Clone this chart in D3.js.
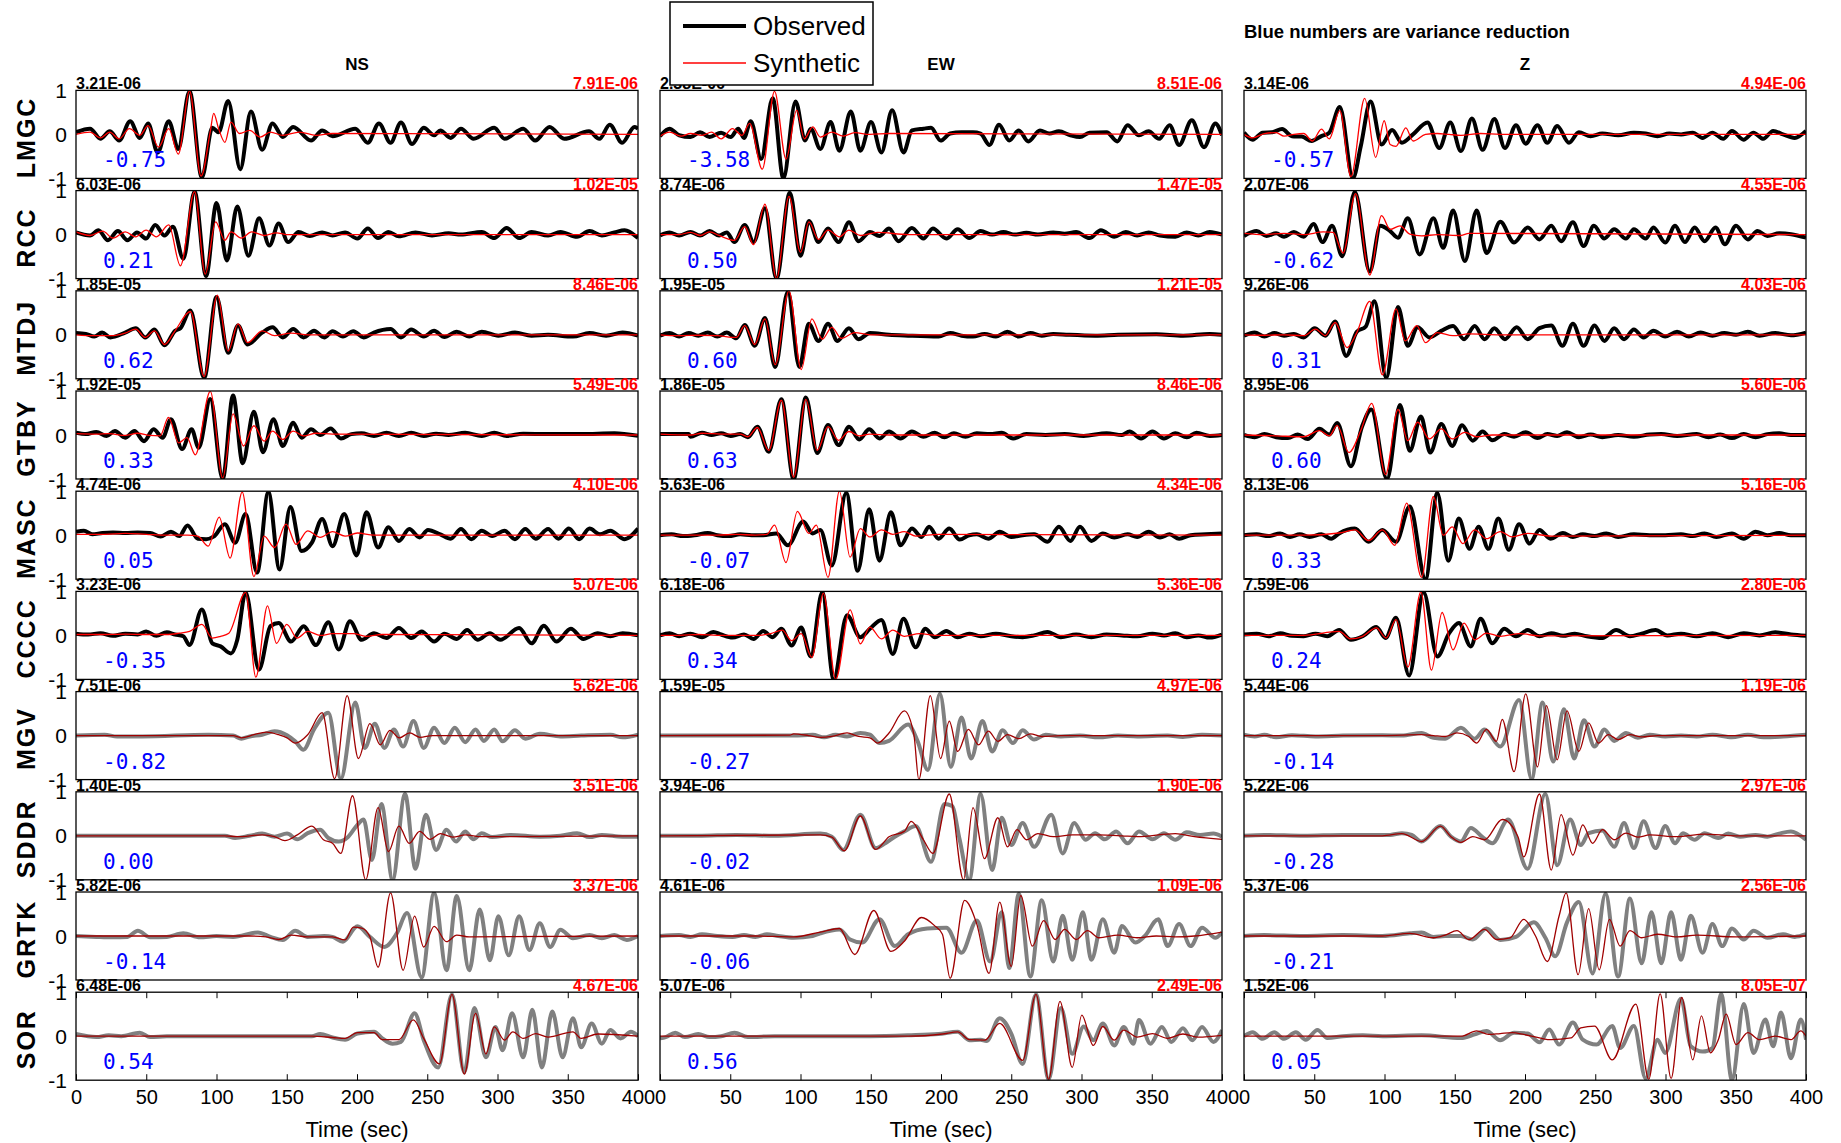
<!DOCTYPE html>
<html>
<head>
<meta charset="utf-8">
<script src="https://cdn.jsdelivr.net/npm/d3@7"></script>
<style>
  body { margin: 0; background: #fff; }
  text { font-family: "Liberation Sans", Arial, sans-serif; }
</style>
</head>
<body>
<svg id="chart" width="1841" height="1143"></svg>
<script>
// ---------------------------------------------------------------------------
// Station / component layout and per-trace annotations
// ---------------------------------------------------------------------------
const stations   = ["LMGC", "RCC", "MTDJ", "GTBY", "MASC", "CCCC", "MGV", "SDDR", "GRTK", "SOR"];
const components = ["NS", "EW", "Z"];

// peak amplitude of the observed record (black, upper left of each panel)
const observedPeak = [
  ["3.21E-06", "2.38E-06", "3.14E-06"],
  ["6.03E-06", "8.74E-06", "2.07E-06"],
  ["1.85E-05", "1.95E-05", "9.26E-06"],
  ["1.92E-05", "1.86E-05", "8.95E-06"],
  ["4.74E-06", "5.63E-06", "8.13E-06"],
  ["3.23E-06", "6.18E-06", "7.59E-06"],
  ["7.51E-06", "1.59E-05", "5.44E-06"],
  ["1.40E-05", "3.94E-06", "5.22E-06"],
  ["5.82E-06", "4.61E-06", "5.37E-06"],
  ["6.48E-06", "5.07E-06", "1.52E-06"]
];
// peak amplitude of the synthetic record (red, upper right of each panel)
const syntheticPeak = [
  ["7.91E-06", "8.51E-06", "4.94E-06"],
  ["1.02E-05", "1.47E-05", "4.55E-06"],
  ["8.46E-06", "1.21E-05", "4.03E-06"],
  ["5.49E-06", "8.46E-06", "5.60E-06"],
  ["4.10E-06", "4.34E-06", "5.16E-06"],
  ["5.07E-06", "5.36E-06", "2.80E-06"],
  ["5.62E-06", "4.97E-06", "1.19E-06"],
  ["3.51E-06", "1.90E-06", "2.97E-06"],
  ["3.37E-06", "1.09E-06", "2.56E-06"],
  ["4.67E-06", "2.49E-06", "8.05E-07"]
];
// variance reduction (blue numbers)
const varianceReduction = [
  [-0.75, -3.58, -0.57],
  [ 0.21,  0.50, -0.62],
  [ 0.62,  0.60,  0.31],
  [ 0.33,  0.63,  0.60],
  [ 0.05, -0.07,  0.33],
  [-0.35,  0.34,  0.24],
  [-0.82, -0.27, -0.14],
  [ 0.00, -0.02, -0.28],
  [-0.14, -0.06, -0.21],
  [ 0.54,  0.56,  0.05]
];

const timeTicks = [0, 50, 100, 150, 200, 250, 300, 350, 400];
const ampTicks  = [1, 0, -1];

// ---------------------------------------------------------------------------
// Normalised waveforms: [time (s), amplitude] at successive turning points
// ---------------------------------------------------------------------------
// LMGC
const obs_LMGC_NS = [[0,0.05],[10,0.13],[17.4,-0.1],[24,0.07],[30.7,-0.14],[38.6,0.3],[45.4,-0.08],[51.3,0.25],[58.1,-0.41],[66,0.3],[72.8,-0.33],[80.8,0.98],[89.6,-0.98],[97,0.15],[101.5,0.05],[108.3,0.76],[116.9,-0.79],[124.5,0.52],[132.5,-0.35],[139.9,0.25],[147.2,-0.06],[154.6,0.17],[167.3,-0.14],[175.2,0.09],[182.6,-0.04],[198.8,0.13],[207.7,-0.19],[215.6,0.25],[223.9,-0.19],[231.3,0.27],[239.2,-0.22],[247.5,0.15],[254.9,-0.02],[259.3,0.09],[266.7,-0.08],[274,0.13],[283,-0.1],[297.7,0.15],[305,-0.1],[318.3,0.13],[326.8,-0.14],[337.1,0.17],[347.4,-0.1],[365.1,0.07],[372.5,-0.1],[379.9,0.22],[388.7,-0.19],[397.5,0.17],[400,0.13]];
const syn_LMGC_NS = [[0,0],[10,0.05],[17.4,-0.08],[24,0.05],[30.7,-0.1],[38,0.13],[45.4,-0.02],[51.3,0.2],[58.7,-0.29],[66,0.13],[72.8,-0.45],[80.8,0.99],[89,-0.95],[95.5,0.05],[98,0.48],[101.5,0.13],[106,-0.18],[110.3,0.28],[116.3,0.02],[123.6,0.09],[131,-0.06],[138.4,0.05],[147.2,-0.02],[159,0.05],[170.8,-0.02],[182.6,0.02],[400,0]];
const obs_LMGC_EW = [[0,-0.04],[6.8,0.13],[13.6,-0.02],[21.7,-0.06],[28.5,0.05],[35.3,-0.06],[43.5,0.04],[50.3,-0.06],[55.7,0.13],[59.8,-0.08],[64.6,0.3],[72,-0.56],[80.2,0.82],[87.8,-1.0],[96.5,0.75],[103.2,-0.14],[107.3,0.13],[114.1,-0.33],[121.4,0.28],[127.7,-0.37],[135.8,0.52],[142.6,-0.37],[150.2,0.28],[157.6,-0.41],[165.2,0.55],[173.3,-0.41],[179.3,0.09],[187.5,0.13],[192.9,0.15],[199.7,-0.14],[206.5,0.02],[214.6,0.05],[222.8,0.05],[228.2,0.02],[234.5,-0.24],[241.3,0.22],[248.6,-0.14],[255.4,0.09],[262.2,-0.16],[270.4,0.09],[277.2,0.02],[283.9,0.07],[292.1,-0.02],[298.9,-0.06],[305.7,0.04],[317.9,0.05],[325.5,-0.16],[332.8,0.21],[340.9,-0.02],[347.7,0.07],[355.3,-0.1],[362.7,0.21],[369.5,-0.24],[378.5,0.32],[387.2,-0.29],[395.3,0.25],[400,-0.02]];
const syn_LMGC_EW = [[0,-0.04],[6.8,0.05],[15,-0.04],[21.7,0.02],[29.9,-0.02],[36.7,0.05],[43.5,-0.1],[51.6,0.13],[58.4,-0.02],[63.8,0.25],[72.8,-0.79],[81.5,0.98],[89.7,-0.56],[97.3,0.55],[102.7,-0.1],[108.7,0.17],[114.1,-0.06],[122.3,0.05],[130.4,-0.04],[138.6,0.04],[149.4,0],[163,0.02],[400,0]];
const obs_LMGC_Z = [[0,0.04],[6.2,-0.12],[13.2,0.04],[20.1,0.05],[27.1,0.12],[34.1,-0.04],[41.1,-0.05],[48.1,-0.15],[55.1,-0.04],[60.7,0.04],[68.2,0.62],[77.5,-1.0],[83.1,-0.27],[90.1,0.75],[97.9,-0.23],[105.4,0.1],[112.4,-0.19],[120.3,0],[130.6,0.27],[139,-0.31],[146.8,0.27],[154.4,-0.38],[162.2,0.36],[169.8,-0.35],[178.2,0.35],[185.7,-0.31],[193.6,0.21],[200.5,-0.21],[208.9,0.21],[215.9,-0.19],[222.9,0.19],[231.3,-0.19],[238.3,0.05],[246.7,-0.04],[255,0.02],[266.3,-0.02],[277.5,0.04],[285.9,0.02],[294.3,-0.04],[302.7,0.02],[311.1,0],[319.4,0.04],[326.4,-0.08],[333.4,0.04],[341.1,-0.1],[347.3,0.08],[355.6,-0.12],[362.6,0.04],[369.6,-0.1],[376.6,0.08],[383.6,0],[392,-0.08],[400,0.08]];
const syn_LMGC_Z = [[0,0],[6.2,-0.08],[14.5,0.02],[22.9,0.04],[28.5,-0.04],[35.5,0],[42.5,0.02],[48.7,-0.15],[55.1,0.12],[60.7,-0.1],[68.2,0.54],[76.1,-0.96],[85.9,0.82],[93.7,-0.52],[99.8,0.31],[104,-0.23],[108.2,-0.27],[115.2,0.15],[120.3,-0.15],[129.2,0],[137.6,0.02],[146,0],[154.4,-0.02],[168.4,0.02],[182.4,0],[400,0]];
// RCC
const obs_RCC_NS = [[0,0.05],[10,-0.02],[16,0.1],[22.7,-0.13],[29.8,0.08],[36.6,-0.13],[43.4,0.05],[49.9,-0.09],[56.4,0.22],[63,-0.02],[69,0.18],[76.4,-0.55],[84.4,0.98],[92.6,-0.94],[100,0.72],[107.4,-0.59],[114.8,0.64],[122.7,-0.48],[130.3,0.37],[137.7,-0.25],[144.2,0.25],[151,-0.17],[158.4,0.06],[166.4,-0.03],[175.2,0.05],[182.6,-0.02],[191.5,0.05],[200.3,-0.09],[207.7,0.14],[215,-0.08],[222.4,0.06],[229.8,-0.04],[241.6,0.05],[253.4,-0.02],[265.2,0.03],[274,0],[288.8,0.06],[297.7,-0.08],[306.5,0.15],[315.4,-0.08],[324.2,0.06],[336,-0.02],[344.8,0.06],[356.6,-0.05],[365.5,0.08],[374.3,-0.02],[383.2,0.05],[390.5,0.1],[400,-0.08]];
const syn_RCC_NS = [[0,0.06],[10,-0.02],[19,0.08],[26.3,-0.08],[35.1,0.06],[42.5,-0.05],[49.9,0.1],[57.2,-0.05],[66,0.22],[74.3,-0.71],[84.4,0.98],[92,-0.9],[99.4,0.29],[105.9,-0.13],[110.3,0.06],[117.7,-0.08],[125,0.06],[133.9,-0.02],[142.7,0.04],[150,0],[400,0]];
const obs_RCC_EW = [[0,-0.02],[6.8,0.05],[13.6,-0.02],[21.7,0.06],[28.5,-0.02],[35.3,0.08],[42.1,-0.02],[47.5,0.05],[53,-0.17],[60.3,0.22],[66.6,-0.17],[74.7,0.6],[82.9,-1.0],[92.4,0.95],[100,-0.48],[106,0.31],[112.8,-0.17],[119.6,0.14],[127.1,-0.17],[134.5,0.28],[141.3,-0.15],[149.4,0.06],[156.2,-0.03],[163,0.14],[169.8,-0.15],[179.3,0.15],[187.5,-0.09],[194.2,0.14],[203.8,-0.09],[211.9,0.12],[220.1,-0.08],[228.2,0.08],[236.4,0],[244.5,0.06],[252.7,0],[260.8,0.04],[269,0],[279.9,0.05],[288,0.02],[296.2,0.06],[305.7,-0.08],[313.8,0.1],[323.3,-0.05],[331.5,0.06],[339.6,-0.02],[347.8,0.05],[355.9,-0.02],[366.8,-0.05],[374.9,0.05],[383.1,-0.02],[391.2,0.06],[400,0]];
const syn_RCC_EW = [[0,0],[13.6,0],[21.7,0.05],[28.5,-0.02],[35.3,0.06],[42.1,-0.02],[53,-0.13],[60.3,0.18],[66.6,-0.23],[74.7,0.69],[82.9,-1.0],[91.8,0.87],[100,-0.4],[106,0.29],[112.8,-0.11],[119.6,0.1],[127.7,-0.05],[134.5,0.1],[142.6,-0.02],[154.8,0.05],[176.6,0],[400,0]];
const obs_RCC_Z = [[0,-0.03],[9,0.08],[16,-0.03],[22.9,0.03],[28.5,-0.05],[35.5,0.06],[42.5,-0.05],[49.5,0.24],[55.9,-0.17],[62.7,0.2],[69.9,-0.49],[78.9,0.97],[89.5,-0.84],[97.1,0.2],[104,0.08],[109.6,-0.07],[116.6,0.37],[125,-0.45],[134.8,0.37],[141.8,-0.3],[148.8,0.55],[157.2,-0.6],[165.6,0.55],[172.6,-0.42],[182.4,0.29],[192.2,-0.18],[202,0.16],[210.3,-0.11],[218.7,0.2],[225.7,-0.15],[234.1,0.28],[241.7,-0.26],[249,0.2],[256.5,-0.09],[263.5,0.12],[271.8,-0.09],[277.5,0.12],[285.9,-0.09],[291.4,0.16],[299.8,-0.18],[306.8,0.2],[313.8,-0.17],[320.8,0.16],[327.8,-0.15],[335.6,0.16],[342.3,-0.22],[350.2,0.2],[358.6,-0.11],[365.5,0.08],[372.5,-0.03],[381,0.03],[389.4,0.01],[400,-0.07]];
const syn_RCC_Z = [[0,0.03],[14.5,0],[28.5,0.03],[42.5,0],[56.5,0.06],[63.5,0.05],[70.5,-0.42],[79.4,0.93],[89.5,-0.92],[97.9,0.43],[104,0.12],[111,0.2],[118,0.01],[126.4,-0.03],[137.6,0],[154.4,-0.02],[160,0.03],[400,0]];
// MTDJ
const obs_MTDJ_NS = [[0,0.04],[7,0.02],[13,-0.04],[18.6,0.05],[24.5,-0.06],[35,0.05],[42.5,0.15],[49.3,-0.06],[55.8,0.12],[63,-0.24],[70.5,0.09],[74.3,0.15],[81.4,0.55],[91.2,-0.98],[100,0.86],[108.3,-0.41],[115.3,0.21],[122.1,-0.22],[132.5,0.05],[139.9,0.17],[147.2,-0.06],[154.6,0.13],[162,-0.06],[169.4,0.09],[176.7,-0.06],[182.6,0.08],[190,-0.04],[197.4,0.08],[204.7,-0.06],[212,0.05],[223.9,0.13],[231.3,-0.06],[238.6,0.12],[247.5,-0.04],[254.9,0.09],[262.2,-0.05],[271,0.07],[279.9,-0.04],[288.8,0.07],[300.6,-0.02],[312.4,0.05],[324.2,-0.02],[336,0],[353.7,-0.04],[365.5,0.04],[377.3,-0.02],[389,0.05],[400,-0.02]];
const syn_MTDJ_NS = [[0,0],[13,-0.02],[24.5,-0.02],[35,0.04],[42.5,0.13],[49.3,-0.06],[55.8,0.09],[63,-0.22],[70.5,0.09],[81.4,0.53],[91.2,-0.95],[100.6,0.9],[108.3,-0.37],[115.3,0.25],[122.1,-0.18],[132.5,0.09],[141.3,-0.02],[153.1,0.04],[164.9,0],[400,0]];
const obs_MTDJ_EW = [[0,-0.02],[6.8,0.04],[13.6,-0.04],[20.4,0.04],[27.2,-0.02],[34,0.05],[40.8,-0.04],[47.5,0.05],[54.3,-0.08],[60.3,0.22],[67.4,-0.25],[74.7,0.38],[82,-0.73],[91,0.98],[99.2,-0.73],[105.9,0.25],[112.8,-0.14],[119.6,0.25],[126.3,-0.14],[134.5,0.15],[141.3,-0.1],[149.4,0.04],[163,0],[176.6,-0.02],[198.3,-0.04],[206.5,0.04],[214.6,-0.02],[222.8,-0.04],[231,0.02],[239.1,-0.04],[247.3,0.07],[255.4,-0.04],[263.6,0.04],[271.7,-0.02],[279.9,0.02],[290.8,0],[309.8,-0.02],[326.1,0],[353.3,0.01],[372.3,-0.02],[391.3,0.02],[400,0]];
const syn_MTDJ_EW = [[0,0],[13.6,-0.02],[27.2,-0.01],[40.8,-0.02],[54.3,-0.06],[60.3,0.21],[67.4,-0.22],[74.7,0.36],[82,-0.68],[91.8,1.0],[100.5,-0.79],[108.1,0.36],[115.5,-0.1],[122.3,0.17],[129.1,-0.08],[138.6,0.05],[149.4,0],[400,0]];
const obs_MTDJ_Z = [[0,-0.02],[7.6,0.05],[14.5,-0.04],[21.5,0.04],[28.5,-0.02],[35.5,0.02],[42.5,-0.06],[50.3,0.15],[57.9,-0.02],[64.9,0.3],[72.7,-0.48],[80.3,0.07],[86.7,0.19],[92.9,0.76],[101.2,-0.98],[109.6,0.63],[116.6,-0.25],[123.6,0.17],[132,-0.06],[140.4,0.09],[148.8,0.2],[156.6,-0.1],[164.2,0.2],[171.2,-0.1],[178.2,0.15],[185.7,-0.1],[194.1,0.17],[201.9,-0.1],[210.3,0.15],[218.7,0.21],[226.6,-0.25],[234.1,0.25],[241.7,-0.25],[249.5,0.21],[256.5,-0.14],[263.5,0.15],[270.5,-0.1],[277.5,0.12],[284.4,-0.06],[291.4,0.09],[299.8,-0.04],[308.2,0.07],[316.6,-0.04],[325,0.05],[333.4,-0.02],[341.8,0.04],[350.2,0],[358.6,0.07],[366.9,-0.02],[378.1,0.04],[389.3,-0.01],[400,0.05]];
const syn_MTDJ_Z = [[0,0],[14.5,-0.01],[28.5,0],[42.5,-0.02],[50.9,0.13],[57.9,-0.02],[64.9,0.28],[73.3,-0.29],[80.3,0.05],[89.5,0.76],[98.5,-0.91],[108.2,0.59],[114.7,-0.14],[123,0.21],[129.2,-0.18],[137.6,0.05],[148.8,-0.02],[160,0.02],[182.4,0],[400,0]];
// GTBY
const obs_GTBY_NS = [[0,0.05],[7,0.02],[14.5,0.07],[21.8,-0.02],[27.7,0.09],[35,-0.06],[41.6,0.09],[48.4,-0.14],[55.2,0.13],[61.7,-0.06],[67.6,0.36],[75.5,-0.32],[82.3,0.13],[87.3,-0.29],[95.6,0.82],[104.4,-1.0],[111.8,0.9],[118.6,-0.64],[126.6,0.53],[133.1,-0.39],[140.5,0.36],[147.2,-0.25],[154.6,0.28],[160.5,-0.06],[167.3,0.13],[173.8,0],[181.2,0.15],[188.6,-0.08],[196,0.02],[203.3,0.04],[212.1,-0.02],[221,0.05],[229.8,-0.02],[238.6,0.05],[247.5,-0.02],[256.3,0.03],[265.2,0],[277,0.05],[288.8,-0.02],[297.7,0.05],[306.5,-0.02],[318.3,0.03],[336,0.02],[359.6,0.02],[383.2,0.04],[400,-0.02]];
const syn_GTBY_NS = [[0,0.03],[14.5,0.02],[23.3,0.03],[35,-0.01],[43.7,0.04],[52.5,-0.01],[59.9,-0.02],[65.8,0.4],[73.1,-0.18],[79,-0.06],[84.9,-0.45],[95.6,0.99],[104.4,-0.98],[111.8,0.48],[119.2,-0.25],[126.6,0.21],[133.9,-0.14],[139.9,0.09],[147.2,-0.1],[154.6,0.09],[162,-0.02],[170.8,0.04],[182.6,0.02],[400,0]];
const obs_GTBY_EW = [[0,0.02],[20.4,0.02],[21.7,-0.04],[29.9,0.05],[36.7,0],[43.5,0.04],[50.3,-0.02],[57.1,0.02],[62.5,-0.05],[69.3,0.19],[77.4,-0.38],[86.4,0.81],[95.1,-1.0],[103.8,0.85],[111.9,-0.41],[119.6,0.23],[127.1,-0.23],[134.5,0.19],[141.8,-0.1],[148.9,0.13],[156.2,-0.08],[163,0.08],[171.2,-0.08],[179.3,0.08],[187.5,-0.04],[195.6,0.05],[202.4,-0.05],[209.2,0.04],[217.4,-0.04],[225.5,0.04],[235,0.02],[243.2,0.05],[251.3,-0.08],[260.8,0.02],[274.4,0],[288,0.02],[301.6,-0.02],[317.9,0.04],[328.8,0],[334.2,0.08],[342.4,-0.08],[350.5,0.08],[358.7,-0.08],[366.8,0.04],[375,-0.05],[381.8,0.05],[391.3,-0.02],[400,0]];
const syn_GTBY_EW = [[0,0.02],[21.7,0],[29.9,0.04],[43.5,0.02],[57.1,0.02],[62.5,-0.04],[69.3,0.17],[77.4,-0.35],[86.4,0.79],[95.1,-0.96],[103.8,0.81],[111.9,-0.35],[119.6,0.19],[127.1,-0.12],[134.5,0.08],[141.8,-0.02],[149.4,0.02],[163,0],[400,0]];
const obs_GTBY_Z = [[0,0],[7.6,-0.05],[14.5,0.02],[22.9,-0.05],[31.3,-0.07],[38.3,0.01],[45.3,-0.09],[53.7,0.14],[60.7,0.01],[66.3,0.27],[76.1,-0.71],[83.9,0.18],[90.6,0.58],[101.8,-1.0],[111,0.68],[118,-0.36],[125.9,0.42],[132.6,-0.4],[140.4,0.25],[148.2,-0.25],[155.2,0.22],[162.8,-0.13],[169.8,0.08],[176.8,-0.12],[185.2,0.02],[192.2,-0.04],[200.5,0.06],[208.9,-0.07],[215.9,0.02],[222.9,-0.02],[229.9,0.06],[238.3,-0.05],[246.7,0.01],[255,-0.05],[266.3,0],[277.5,-0.04],[288.7,0.01],[297,0.02],[308.2,-0.02],[322.2,0.02],[330.6,-0.05],[339,0.01],[347.3,-0.07],[355.7,0.02],[364.1,-0.05],[372.5,0.02],[380.9,0.04],[389.3,0],[400,0]];
const syn_GTBY_Z = [[0,0],[22.9,-0.02],[42.5,-0.04],[53.7,0.1],[60.7,-0.02],[66.3,0.22],[74.7,-0.4],[83.1,0.1],[90.9,0.72],[100.7,-0.9],[109.6,0.58],[116.6,-0.13],[123.6,0.29],[132,-0.09],[140.4,0.14],[148.2,-0.09],[157.2,0.06],[165.6,-0.04],[176.8,0],[400,0]];
// MASC
const obs_MASC_NS = [[0,0.08],[5.6,0.1],[11.5,0.02],[18.9,0.05],[26.3,0.06],[35.1,0.05],[43.9,0.06],[52.8,0.05],[60.2,-0.03],[67.6,0.08],[73.5,-0.02],[79.4,0.22],[86.7,-0.08],[92.6,-0.09],[98.5,-0.02],[105.9,0.25],[113.3,-0.17],[120.7,0.48],[128.9,-0.85],[136.9,0.98],[144.9,-0.78],[152.6,0.64],[160.5,-0.36],[167.9,-0.17],[175.2,0.37],[182.6,-0.25],[190.9,0.48],[199.7,-0.46],[206.8,0.52],[215,-0.28],[222.4,0.18],[229.8,-0.13],[237.2,0.14],[244.6,-0.05],[250.5,0.12],[259.3,0.02],[266.7,-0.08],[274,0.14],[281.4,-0.09],[288.8,0.1],[296.2,-0.02],[305,0.1],[312.4,-0.09],[319.8,0.14],[327.2,-0.08],[336,0.14],[343.4,-0.08],[350.8,0.15],[358.1,-0.09],[365.5,0.15],[372.9,0.02],[380.3,0.1],[390.5,-0.09],[400,0.15]];
const syn_MASC_NS = [[0,0.02],[20.4,0.02],[35.1,0.04],[49.9,0.02],[64.6,0],[79.4,0],[86.7,-0.02],[94.1,-0.25],[101.9,0.41],[109.7,-0.52],[118.3,0.98],[126.6,-0.94],[133.9,-0.02],[141.3,-0.28],[149.5,0.25],[156.6,-0.21],[164.9,0.1],[173.8,-0.05],[182.6,0.08],[191.5,-0.02],[200.3,0.05],[212,0],[400,0]];
const obs_MASC_EW = [[0,0],[8.2,0.02],[16.3,-0.02],[24.5,0],[34,0.05],[40.8,0],[48.9,-0.02],[57.1,0.02],[65.2,0],[73.4,0],[82.9,0.04],[91,-0.23],[101.9,0.31],[108.7,0.04],[114.1,0.12],[122.3,-0.69],[132.6,0.96],[140.7,-0.81],[148.9,0.59],[156.2,-0.58],[164.4,0.52],[171.2,-0.23],[179.3,0.15],[186.1,-0.04],[191.5,0.19],[198.3,-0.08],[205.9,0.15],[213.3,-0.1],[220.1,0],[225.5,0.02],[233.7,-0.08],[241.8,0.08],[250,-0.04],[258.1,0],[266.3,0.02],[275.8,-0.15],[283.9,0.19],[292.1,-0.13],[298.9,0.19],[307,-0.13],[315.2,0.04],[323.3,-0.05],[332.8,0.02],[339.6,-0.04],[347.8,0.08],[355.9,-0.05],[362.7,0.02],[369.5,-0.08],[377.7,0],[388.6,0.02],[400,0.04]];
const syn_MASC_EW = [[0,0],[40.8,0],[54.3,0.02],[67.9,0],[76.1,0.02],[81.5,0.23],[89.7,-0.62],[97.8,0.54],[105.9,0.04],[111.3,0.23],[119.6,-0.96],[127.7,1.0],[135.3,-0.5],[142.6,0.15],[149.4,-0.04],[157.6,0.12],[165.7,0.02],[173.9,0.08],[182,-0.02],[198.3,0.02],[400,0]];
const obs_MASC_Z = [[0,0],[9,0.02],[17.4,-0.02],[25.7,0.04],[32.7,-0.04],[39.7,0.02],[46.7,-0.04],[55.1,0.02],[62.1,-0.08],[67.7,0.04],[78.9,0.15],[88.7,-0.15],[98.5,0.12],[108.2,-0.15],[118,0.65],[129.2,-1.0],[137.6,0.96],[145.4,-0.58],[152.9,0.38],[160.5,-0.31],[167,0.19],[174,-0.31],[181,0.38],[188.5,-0.33],[195.8,0.25],[203.3,-0.19],[210.3,0.12],[218.1,-0.08],[227,0.05],[234.1,-0.04],[241.1,0.02],[249.5,-0.02],[257.9,0.04],[266.3,-0.04],[277.5,0.02],[288.7,0],[299.8,0],[311,0.02],[319.4,-0.02],[327.8,0.04],[336.2,-0.04],[347.3,0.04],[355.7,-0.08],[364.1,0.08],[372.5,0],[380.9,0.05],[389.3,0],[400,0]];
const syn_MASC_Z = [[0,0],[42.5,0],[67.7,0.05],[78.9,0.12],[88.7,-0.12],[98.5,0.12],[107.4,-0.23],[115.8,0.73],[126.4,-0.96],[134.8,0.88],[141.8,0],[148.2,0.19],[155.8,-0.19],[164.2,0.12],[172.6,-0.08],[182.4,0.08],[190.8,-0.04],[201.9,0.04],[218.7,-0.02],[400,0]];
// CCCC
const obs_CCCC_NS = [[0,0.04],[8.6,0.02],[17.4,0.05],[26.3,-0.01],[35.1,0.04],[43.9,0.02],[49.9,0.09],[57.2,-0.01],[64.6,0.07],[70.5,0.02],[76.4,-0.02],[80.8,-0.22],[89.6,0.59],[97,-0.18],[102.9,-0.25],[110.3,-0.41],[114.8,-0.1],[120.7,0.98],[130.2,-0.78],[138.4,0.21],[144.3,0.28],[153.1,-0.14],[162,0.21],[170.8,-0.22],[179.6,0.3],[187,-0.32],[195,0.32],[203.3,-0.1],[212.1,0.05],[221,-0.06],[229.8,0.17],[238.6,-0.06],[246,0.09],[254.9,-0.14],[262.2,0.04],[271,-0.08],[278.4,0.12],[285.8,-0.1],[294.6,0.05],[302,-0.1],[315.4,0.17],[324.2,-0.18],[333,0.22],[341.9,-0.14],[352.2,0.15],[361.1,-0.08],[371.4,0.05],[380.3,-0.02],[389.1,0.05],[400,0]];
const syn_CCCC_NS = [[0,0.02],[17.4,0.02],[35.1,0.03],[49.9,0.02],[64.6,0.02],[73.5,0.05],[80.8,0.09],[89.6,0.25],[97,-0.06],[102.9,-0.02],[108.8,0.05],[120.7,0.98],[128,-0.95],[136.3,0.67],[142.7,-0.18],[150,0.25],[157.4,-0.06],[164.9,0.09],[173.8,0],[182.6,0.04],[197.4,0.04],[206.2,-0.02],[218,0.02],[400,0]];
const obs_CCCC_EW = [[0,0],[6.8,0.05],[13.6,-0.02],[21.7,0.04],[29.9,-0.04],[38,0.08],[43.5,0.02],[51.6,-0.05],[59.8,0.02],[66.6,-0.08],[73.4,0.1],[80.2,-0.04],[86.4,0.15],[93.7,-0.23],[100.5,0.18],[107.3,-0.48],[115.5,0.98],[123.6,-1.0],[133.1,0.46],[142.6,-0.04],[149.4,0.15],[157.6,0.35],[165.7,-0.42],[173.3,0.38],[182,-0.27],[188.8,0.15],[195.6,-0.04],[203.8,0.1],[211.9,-0.04],[220.1,0.04],[228.2,-0.02],[239.1,0.04],[250,-0.02],[258.1,-0.04],[266.3,0],[275.8,0.08],[285.3,-0.04],[296.2,0.02],[307,-0.04],[317.9,0.02],[328.8,0],[339.6,-0.02],[350.5,0.04],[358.7,0],[366.8,0.05],[374.9,-0.04],[383.1,0],[391.2,-0.05],[400,0.02]];
const syn_CCCC_EW = [[0,0],[13.6,0],[27.2,0.02],[40.8,0],[54.3,0],[67.9,0],[78.8,0.04],[87,0.12],[93.7,-0.12],[100.5,0.04],[108.1,-0.5],[116.3,0.96],[125,-1.0],[135.3,0.58],[142.6,-0.19],[149.4,0.19],[157.6,-0.08],[165.7,0.12],[173.9,-0.02],[184.7,0.04],[198.3,0],[400,0]];
const obs_CCCC_Z = [[0,0.02],[9,0.04],[17.4,-0.02],[25.7,0.05],[34.1,-0.01],[42.5,-0.02],[50.9,0.04],[59.3,-0.02],[67.7,0.12],[76.1,-0.1],[84.5,-0.02],[94.2,0.19],[100.7,-0.06],[108.2,0.4],[117.5,-0.91],[127.8,0.98],[137.6,-0.48],[146,0.05],[153,0.28],[161.4,-0.25],[168.4,0.38],[176.8,-0.18],[185.2,0.15],[193.6,-0.02],[202,0.12],[210.3,-0.02],[218.7,0.05],[227.1,-0.01],[235.5,0.04],[243.9,-0.02],[255.1,-0.06],[264.9,0.12],[274.7,-0.02],[283,0.04],[292.9,0.12],[301.2,0],[311,0.04],[322.2,-0.02],[333.4,0.05],[344.6,-0.04],[355.7,0.05],[366.9,0],[378.1,0.07],[389.3,0.02],[400,-0.01]];
const syn_CCCC_Z = [[0,0],[42.5,0],[67.7,0.09],[76.1,-0.08],[84.5,-0.02],[94.2,0.17],[101.2,-0.06],[108.2,0.36],[116.6,-0.72],[125.9,0.99],[133.4,-0.79],[141,0.52],[148.8,-0.33],[156.6,0.28],[164.2,-0.1],[172.6,0.05],[182.4,-0.02],[196.4,0.04],[210.3,-0.01],[400,0]];
// MGV
const obs_MGV_NS = [[0,0],[20.4,0.02],[29.2,-0.02],[47,-0.02],[94.1,0.02],[111.8,0],[117.7,-0.07],[123.6,-0.02],[132.5,0.02],[141.3,0.1],[150.2,0.01],[156,-0.13],[161.9,-0.32],[169.4,0.14],[179.6,0.52],[188.5,-0.98],[198.8,0.75],[205.6,-0.28],[212.7,0.27],[219.5,-0.28],[226.3,0.14],[232.8,-0.25],[240.2,0.33],[247.5,-0.28],[254.9,0.18],[262.2,-0.17],[269.6,0.18],[277,-0.15],[284.4,0.14],[290.3,-0.12],[297.7,0.14],[303.6,-0.13],[312.4,0.12],[319.8,-0.07],[330.1,0.04],[344.8,-0.02],[359.6,0],[380.3,0.02],[389.1,-0.04],[400,0.02]];
const syn_MGV_NS = [[0,0],[94.1,0],[111.8,0],[117.7,-0.05],[126.6,0.02],[135.4,0.08],[144.3,0.02],[150.2,-0.05],[156,-0.17],[164.9,0.02],[175.2,0.52],[184.1,-0.98],[193,0.91],[201,-0.52],[209.2,0.27],[216.6,-0.21],[223.4,0.12],[230.1,-0.05],[237.5,0.06],[244.9,-0.04],[253.7,0],[400,0]];
const obs_MGV_EW = [[0,0],[95.1,0],[108.7,0.02],[116.8,-0.04],[125,0.02],[133.1,-0.02],[142.6,0.06],[149.4,0.02],[156.2,-0.17],[163,-0.12],[176.6,0.25],[183.4,-0.13],[190.7,-0.78],[199.2,0.95],[207,-0.71],[214.6,0.41],[221.4,-0.52],[229.5,0.33],[236.4,-0.36],[243.9,0.12],[251.2,-0.17],[258.1,0.12],[266.3,-0.09],[274.4,0.02],[285.3,-0.02],[298.9,0],[312.4,-0.04],[326,0],[339.6,-0.02],[361.3,0],[372.2,-0.03],[385.8,0.02],[400,0]];
const syn_MGV_EW = [[0,0],[92.4,0.01],[95.1,0.04],[105.9,0],[114.1,-0.04],[122.3,-0.02],[133.1,0.06],[141.3,-0.02],[149.4,-0.05],[154.8,-0.17],[163,0.06],[173.9,0.56],[180.7,0.02],[184.2,-1.0],[192.4,0.91],[199.7,-0.52],[205.9,0.33],[211.9,-0.36],[219.5,0.14],[226.8,-0.21],[233.7,0.1],[240.5,-0.13],[247.3,0.02],[255.4,-0.07],[263.6,0.04],[271.7,-0.02],[285.3,0],[400,0]];
const obs_MGV_Z = [[0,0.02],[7.6,-0.02],[14.5,0.02],[22.9,-0.04],[34.1,0.01],[50.9,-0.02],[70.5,0],[98.5,0.01],[112.4,0],[126.4,0.06],[134.8,-0.05],[143.2,-0.07],[154.4,0.18],[164.2,-0.07],[171.2,0.14],[182.4,-0.25],[195.8,0.81],[204.7,-0.99],[212.5,0.75],[220.1,-0.59],[227.7,0.6],[235,-0.52],[241.9,0.35],[249.5,-0.25],[256.5,0.14],[263.5,-0.12],[271.9,0.06],[280.3,-0.05],[288.7,0.02],[299.8,-0.02],[311,0],[322.2,-0.02],[333.4,0.02],[347.3,-0.04],[358.6,0.02],[369.8,-0.04],[383.8,-0.02],[400,0.02]];
const syn_MGV_Z = [[0,0],[98.5,0],[126.4,0.02],[134.8,0],[143.2,-0.02],[151.6,0.06],[160,-0.02],[165.6,-0.17],[172.6,0.14],[179.6,-0.13],[183.8,0.37],[192.2,-0.82],[200.5,0.95],[208.9,-0.71],[215.3,0.68],[222.9,-0.55],[229.9,0.56],[238.3,-0.36],[245.3,0.29],[252.3,-0.17],[259.3,0.02],[266.3,-0.09],[274.7,0.02],[283,-0.03],[294.3,0],[400,0]];
// SDDR
const obs_SDDR_NS = [[0,0],[105.9,0],[113.3,-0.05],[123.6,0],[132.5,0.05],[141.3,-0.02],[150.2,0.05],[157.5,-0.08],[164.9,0.06],[173.8,0.14],[179.6,-0.05],[187,-0.13],[193.8,-0.02],[200.3,0.25],[204.7,0.37],[210.6,-0.55],[217.4,0.72],[225.3,-1.0],[234.2,0.95],[241.6,-0.75],[249,0.48],[256.3,-0.32],[263.7,0.14],[270.5,-0.13],[277,0.1],[282.9,-0.08],[288.8,0.06],[296.2,-0.03],[309.5,0.02],[330.1,-0.02],[344.8,0],[356.6,0.06],[365.5,-0.03],[374.3,0.02],[389.1,-0.02],[400,-0.02]];
const syn_SDDR_NS = [[0,0],[105.9,0],[114.8,-0.02],[132.5,0.02],[141.3,-0.02],[148.7,-0.11],[157.5,0.02],[167.9,0.22],[176.1,-0.09],[182.6,-0.17],[188.5,-0.4],[196.8,0.91],[206.2,-1.0],[215,0.64],[222.4,-0.36],[229.8,0.22],[237.2,-0.17],[244.6,0.1],[252,-0.08],[259.3,0.05],[268.2,-0.03],[277,0.02],[288.8,-0.02],[400,0]];
const obs_SDDR_EW = [[0,0],[27.2,0],[54.3,0.02],[81.5,0],[114.1,0.05],[122.3,-0.02],[130.4,-0.32],[142.6,0.48],[153.5,-0.28],[160.3,-0.17],[167.1,-0.02],[173.9,0.1],[182,0.22],[192.9,-0.59],[202.4,0.72],[207.8,0.68],[213.3,-0.09],[220.1,-1.0],[228.2,0.95],[236.4,-0.78],[243.2,0.41],[250,-0.21],[258.1,0.29],[266.3,-0.25],[278.5,0.48],[286.6,-0.4],[294.8,0.29],[302.9,-0.09],[309.7,0.06],[316.5,-0.08],[324.7,0.1],[332.8,-0.17],[340.9,0.1],[350.5,-0.08],[358.7,0.06],[366.8,-0.09],[374.9,0.08],[384.4,0.02],[393.9,0.05],[400,-0.02]];
const syn_SDDR_EW = [[0,0],[114.1,0.02],[122.3,-0.03],[131.2,-0.34],[142.6,0.45],[153.5,-0.31],[163,-0.02],[173.9,0.1],[178.8,0.33],[187.5,-0.09],[194.2,-0.4],[205.9,0.95],[216,-1.0],[222.8,0.64],[230.9,-0.52],[240.5,0.41],[247.3,-0.25],[254.1,0.14],[260.8,-0.09],[269,0.05],[279.9,-0.02],[293.4,0.02],[312.4,0.02],[328.8,0],[339.6,-0.02],[366.8,0.05],[380.4,-0.02],[400,-0.08]];
const obs_SDDR_Z = [[0,0],[14.5,0.02],[42.5,0],[70.5,0.02],[104,0.02],[112.4,0.06],[119.4,0.02],[126.4,-0.13],[139.8,0.22],[147.3,-0.02],[154.4,-0.13],[161.4,0.18],[169.8,-0.03],[176.8,-0.17],[188,0.37],[201.9,-0.75],[214.5,0.95],[222.9,-0.67],[232.1,0.37],[239.7,-0.21],[245.3,0.06],[255.1,0.12],[263.5,-0.25],[270.5,0.29],[277.5,-0.28],[284.4,0.33],[292.9,-0.28],[299.8,0.22],[306.8,-0.17],[312.4,0.06],[320.8,-0.09],[327.8,0.06],[337.6,-0.05],[344.6,0.05],[353,-0.02],[364.1,0.02],[372.5,-0.02],[380.9,0.05],[389.3,0.1],[400,-0.09]];
const syn_SDDR_Z = [[0,0],[98.5,0],[112.4,0.05],[126.4,-0.13],[139.8,0.22],[147.3,-0.02],[154.4,-0.15],[162.8,-0.02],[171.2,-0.09],[183.8,0.37],[195,-0.02],[199.1,-0.48],[210.3,0.95],[218.7,-0.78],[225.7,0.48],[234.1,-0.44],[241.1,0.25],[248.1,-0.17],[255.1,0.14],[263.5,-0.09],[271.9,0.06],[280.3,-0.03],[288.7,0.02],[308.2,-0.02],[327.8,0.04],[350.2,0],[400,0]];
// GRTK
const obs_GRTK_NS = [[0,0],[14.5,-0.02],[26.3,-0.03],[36.6,-0.02],[44,0.12],[52.8,-0.03],[64.6,-0.02],[76.4,0.06],[88.2,-0.03],[100,0],[111.8,-0.02],[129.5,0.08],[138.4,-0.02],[147.2,-0.09],[156,0.12],[164.9,-0.02],[176.7,0],[182.6,-0.02],[190,-0.13],[200.3,0.22],[209.2,-0.02],[219.5,-0.25],[228.3,0.06],[235.7,0.52],[246,-0.94],[254.9,0.98],[263.7,-0.78],[271,0.91],[279.9,-0.78],[287.3,0.6],[294.6,-0.55],[300.6,0.45],[308,-0.44],[315.4,0.45],[322.7,-0.32],[330.1,0.29],[337.5,-0.25],[344.8,0.14],[353.7,-0.05],[365.5,0.02],[374.3,-0.05],[383.2,0.02],[392,-0.09],[400,0]];
const syn_GRTK_NS = [[0,0],[123.6,0],[135.4,-0.02],[144.3,-0.08],[153.1,0.02],[164.9,-0.02],[182.6,-0.02],[191.5,-0.09],[197.4,0.2],[203.3,0.18],[209.2,-0.02],[215,-0.71],[223.9,0.98],[232.8,-0.78],[241,0.45],[247.5,-0.25],[254.9,0.22],[263.7,-0.13],[271,0.02],[279.9,-0.02],[400,0]];
const obs_GRTK_EW = [[0,0],[13.6,0.02],[21.7,-0.02],[29.9,0.04],[40.8,0],[51.6,-0.02],[59.8,0.02],[67.9,-0.02],[76.1,0.04],[84.2,0],[95.1,-0.04],[108.7,0],[114.1,0.06],[127.7,0.15],[135.3,-0.08],[143.9,-0.15],[156.2,0.38],[167.1,-0.23],[176.6,0.04],[190.2,0.17],[203.8,0.19],[214.6,-0.38],[225.5,0.35],[235,-0.58],[243.2,0.54],[248.6,-0.73],[255.4,0.96],[263.6,-0.92],[271.7,0.81],[279.9,-0.58],[286.6,0.46],[293.4,-0.54],[301,0.54],[307,-0.54],[315.2,0.38],[323.3,-0.38],[328.8,0.23],[338.3,-0.15],[345.1,0],[354.6,0.38],[361.3,-0.23],[369.5,0.27],[377.7,-0.23],[385.8,0.19],[395.3,-0.04],[400,0.08]];
const syn_GRTK_EW = [[0,0],[67.9,0],[95.1,-0.02],[114.1,0.09],[127.7,0.17],[138.6,-0.42],[152.2,0.58],[164.4,-0.35],[173.9,-0.12],[186.1,0.42],[195.6,0.23],[201,0.04],[206.5,-0.96],[216.8,0.81],[225.5,0.27],[234.2,-0.85],[241.8,0.77],[250,-0.69],[256.8,0.92],[265,-0.23],[273.1,0.35],[281.3,-0.08],[288,0.15],[296.2,-0.08],[304.3,0.12],[312.4,-0.04],[326,0.02],[339.6,-0.04],[353.2,0],[366.8,-0.02],[380.4,0],[400,0.09]];
const obs_GRTK_Z = [[0,0],[14.5,0.02],[42.5,0],[70.5,0.02],[98.5,0],[118,0.06],[126.4,0.08],[134.8,-0.02],[143.2,0],[154.4,0],[162.8,-0.08],[172.6,0.17],[182.4,-0.09],[193.6,-0.02],[206.2,0.31],[214.5,-0.04],[221.5,-0.46],[229.9,0.31],[238.3,0.77],[248.1,-0.85],[257.3,0.96],[266.3,-0.92],[274.7,0.85],[283,-0.62],[290,0.54],[297,-0.62],[304,0.54],[311,-0.54],[318,0.46],[326.4,-0.38],[333.4,0.27],[340.4,-0.23],[347.3,0.17],[355.7,-0.08],[362.7,0.12],[372.5,-0.04],[383.7,0.04],[392,-0.02],[400,0.04]];
const syn_GRTK_Z = [[0,0],[98.5,0],[118,0.06],[134.8,-0.04],[143.2,0.02],[151.6,0.12],[160,-0.08],[171.2,0.15],[179.6,-0.08],[189.4,-0.04],[199.1,0.38],[207.5,0],[215.9,-0.58],[224.3,0.46],[229.3,0.98],[237.8,-0.88],[245.3,0.62],[252.8,-0.77],[260.1,0.38],[267.7,-0.23],[274.7,0.12],[283,-0.04],[294.3,0.04],[308.2,-0.02],[322.2,0.02],[350.2,-0.02],[400,0]];
// SOR
const obs_SOR_NS = [[0,0.05],[14.5,-0.02],[23.3,0.02],[32.2,0],[45.4,0.08],[52.8,-0.02],[64.6,0],[94.1,0],[167.9,0],[173.8,0.05],[182.6,-0.03],[191.5,-0.08],[200.3,0.06],[212.1,0.1],[218,-0.05],[225.3,-0.17],[231.3,-0.13],[241,0.52],[247.5,-0.09],[257.8,-0.71],[267.6,0.95],[276.4,-0.82],[283.5,0.64],[291.8,-0.48],[298.5,0.21],[303.6,-0.32],[310.4,0.52],[318.3,-0.48],[324.8,0.6],[331.6,-0.71],[339,0.56],[346.3,-0.48],[353.7,0.41],[359.6,-0.25],[367,0.29],[374.3,-0.17],[380.3,0.14],[387.6,-0.05],[395,0.1],[400,0]];
const syn_SOR_NS = [[0,0],[167.9,0],[182.6,-0.03],[191.5,-0.05],[200.3,0.08],[212.1,0.08],[218,-0.08],[229.8,-0.08],[240.1,0.37],[247.5,-0.05],[258.7,-0.63],[267.6,0.95],[276.4,-0.86],[284.4,0.52],[291.8,-0.4],[297.7,0.21],[305,-0.09],[310.9,0.1],[318.3,-0.05],[327.2,0.06],[336,-0.02],[353.7,0.1],[359.6,-0.05],[371.4,0.05],[400,0]];
const obs_SOR_EW = [[0,-0.05],[4.1,-0.02],[10.9,0.08],[17.7,-0.02],[27.2,0.05],[35.3,-0.02],[43.5,0],[53,0.08],[62.5,-0.02],[81.5,0],[122.3,0],[149.4,0],[176.6,0.02],[198.3,0.05],[211.9,0.1],[220.1,-0.09],[228.2,-0.08],[232.3,-0.11],[241.8,0.41],[250,0.06],[258.1,-0.63],[267.6,0.95],[276.6,-0.98],[285.3,0.64],[293.4,-0.4],[301.6,0.22],[308.4,-0.09],[315.2,0.29],[323.3,-0.21],[330.1,0.21],[336.9,-0.17],[340.9,0.37],[349.1,-0.17],[357.2,0.21],[364,-0.13],[372.2,0.18],[378.9,-0.09],[385.8,0.21],[393.9,-0.13],[400,0.14]];
const syn_SOR_EW = [[0,0],[176.6,0],[201,0.05],[211.9,0.1],[220.1,-0.08],[231,-0.09],[241.8,0.29],[258.1,-0.55],[267.6,0.95],[276.6,-0.98],[284.7,0.79],[293.4,-0.71],[300.2,0.48],[308.4,-0.21],[315.2,0.22],[323.3,-0.09],[330.1,0.14],[339.6,-0.02],[350.5,0.06],[361.3,-0.05],[372.2,0.05],[383.1,-0.02],[400,0.02]];
const obs_SOR_Z = [[0,0],[6.2,0.09],[13.2,-0.06],[21.5,0.09],[28.5,-0.06],[36.9,0.09],[43.9,-0.08],[52.3,0.14],[59.3,-0.04],[70.5,0],[84.5,0.02],[98.5,0],[126.4,0.02],[154.4,-0.04],[164.2,0.04],[172.6,0.12],[182.4,-0.09],[192.2,0.08],[202,0.06],[210.3,-0.14],[217.3,0.15],[224.3,-0.19],[234.1,0.31],[241.1,-0.08],[250.9,-0.19],[262.1,0.23],[267.7,-0.27],[277.5,0.23],[285.9,-0.96],[294.3,-0.08],[299.8,-0.38],[311,0.85],[318,-0.23],[326.4,-0.35],[333.4,-0.27],[339.6,0.96],[347.3,-1.0],[355.7,0.73],[362.7,-0.38],[371.1,0.38],[376.6,-0.23],[382.2,0.54],[389.3,-0.5],[396.3,0.38],[400,-0.08]];
const syn_SOR_Z = [[0,0],[154.4,0],[165.6,0.12],[174,0.04],[182.4,0.06],[190.8,0.08],[199.1,0.04],[210.3,-0.04],[218.7,-0.08],[232.7,-0.04],[239.7,0.19],[249.5,0.23],[262.1,-0.54],[278.9,0.73],[288.1,-0.98],[296.2,0.96],[304,-0.96],[311.6,0.88],[319.4,-0.54],[325.6,0.46],[332,-0.38],[337.6,-0.08],[343.2,0.5],[350.2,-0.19],[358.6,0.08],[367,-0.08],[378.1,0],[389.3,-0.08],[396.3,0.12],[400,0]];

// Lookup: station -> [NS, EW, Z] for observed and synthetic records
const observed = {
  LMGC: [obs_LMGC_NS, obs_LMGC_EW, obs_LMGC_Z], RCC: [obs_RCC_NS, obs_RCC_EW, obs_RCC_Z],
  MTDJ: [obs_MTDJ_NS, obs_MTDJ_EW, obs_MTDJ_Z], GTBY: [obs_GTBY_NS, obs_GTBY_EW, obs_GTBY_Z],
  MASC: [obs_MASC_NS, obs_MASC_EW, obs_MASC_Z], CCCC: [obs_CCCC_NS, obs_CCCC_EW, obs_CCCC_Z],
  MGV:  [obs_MGV_NS,  obs_MGV_EW,  obs_MGV_Z],  SDDR: [obs_SDDR_NS, obs_SDDR_EW, obs_SDDR_Z],
  GRTK: [obs_GRTK_NS, obs_GRTK_EW, obs_GRTK_Z], SOR:  [obs_SOR_NS,  obs_SOR_EW,  obs_SOR_Z]
};
const synthetic = {
  LMGC: [syn_LMGC_NS, syn_LMGC_EW, syn_LMGC_Z], RCC: [syn_RCC_NS, syn_RCC_EW, syn_RCC_Z],
  MTDJ: [syn_MTDJ_NS, syn_MTDJ_EW, syn_MTDJ_Z], GTBY: [syn_GTBY_NS, syn_GTBY_EW, syn_GTBY_Z],
  MASC: [syn_MASC_NS, syn_MASC_EW, syn_MASC_Z], CCCC: [syn_CCCC_NS, syn_CCCC_EW, syn_CCCC_Z],
  MGV:  [syn_MGV_NS,  syn_MGV_EW,  syn_MGV_Z],  SDDR: [syn_SDDR_NS, syn_SDDR_EW, syn_SDDR_Z],
  GRTK: [syn_GRTK_NS, syn_GRTK_EW, syn_GRTK_Z], SOR:  [syn_SOR_NS,  syn_SOR_EW,  syn_SOR_Z]
};
// stations whose records were not used in the inversion are drawn in gray / dark red
const unusedStations = ["MGV", "SDDR", "GRTK", "SOR"];

// ---------------------------------------------------------------------------
// Geometry
// ---------------------------------------------------------------------------
const colLeft = [76, 660, 1244];
const panelW = 562, panelH = 88;
const rowTop0 = 90.4, rowStep = 100.2;
const rowTop = r => rowTop0 + r * rowStep;

const svg = d3.select("#chart");

const x = d3.scaleLinear().domain([0, 400]).range([0, panelW]);
const y = d3.scaleLinear().domain([-1, 1]).range([panelH, 0]);
const trace = d3.line().x(d => x(d[0])).y(d => y(d[1])).curve(d3.curveMonotoneX);

svg.append("defs").append("clipPath").attr("id", "panel-clip")
  .append("rect").attr("width", panelW).attr("height", panelH);

stations.forEach((st, r) => {
  const unused = unusedStations.includes(st);

  // station name, vertical at the far left
  svg.append("text")
    .attr("transform", `translate(26,${rowTop(r) + panelH / 2 + 3}) rotate(-90)`)
    .attr("text-anchor", "middle").attr("dominant-baseline", "central")
    .style("font-weight", "bold").style("font-size", "25px").style("letter-spacing", "2px")
    .text(st);

  // amplitude tick labels (first column only)
  ampTicks.forEach(a => {
    svg.append("text")
      .attr("x", colLeft[0] - 9).attr("y", rowTop(r) + y(a))
      .attr("text-anchor", "end").attr("dominant-baseline", "central")
      .style("font-size", "21px")
      .text(a);
  });

  components.forEach((cmp, c) => {
    const g = svg.append("g").attr("transform", `translate(${colLeft[c]},${rowTop(r)})`);
    g.append("rect").attr("width", panelW).attr("height", panelH).attr("fill", "#fff");

    const traces = g.append("g").attr("clip-path", "url(#panel-clip)");
    traces.append("path").datum(observed[st][c])
      .attr("d", trace).attr("fill", "none")
      .attr("stroke", unused ? "#808080" : "#000")
      .attr("stroke-width", 4).attr("stroke-linejoin", "round");
    traces.append("path").datum(synthetic[st][c])
      .attr("d", trace).attr("fill", "none")
      .attr("stroke", unused ? "#a00000" : "#ff0000")
      .attr("stroke-width", 1.3);

    // time axis ticks on the last row (inward, top and bottom)
    if (r === stations.length - 1) {
      g.append("g").attr("transform", `translate(0,${panelH})`)
        .call(d3.axisBottom(x).tickValues(timeTicks).tickSizeInner(-6).tickSizeOuter(0).tickPadding(10))
        .call(ax => ax.select(".domain").remove())
        .call(ax => ax.selectAll("text").style("font-size", "20px")
          .style("font-family", "'Liberation Sans', Arial, sans-serif").attr("fill", "#000"));
      g.append("g")
        .call(d3.axisTop(x).tickValues(timeTicks).tickSizeInner(-6).tickSizeOuter(0).tickFormat(""))
        .call(ax => ax.select(".domain").remove());
    }

    g.append("rect").attr("width", panelW).attr("height", panelH)
      .attr("fill", "none").attr("stroke", "#000").attr("stroke-width", 1.3);

    // peak amplitudes above the panel
    g.append("text").attr("x", 0).attr("y", -1)
      .style("font-size", "16px").style("font-weight", "bold").attr("fill", "#000")
      .text(observedPeak[r][c]);
    g.append("text").attr("x", panelW).attr("y", -1).attr("text-anchor", "end")
      .style("font-size", "16px").style("font-weight", "bold").attr("fill", "#ff0000")
      .text(syntheticPeak[r][c]);

    // variance reduction
    g.append("text").attr("x", 27).attr("y", 77)
      .style("font-family", "'DejaVu Sans Mono', monospace").style("font-size", "21px")
      .attr("fill", "#0000ff")
      .text(varianceReduction[r][c].toFixed(2));
  });
});

// component titles and time-axis titles
components.forEach((cmp, c) => {
  svg.append("text").attr("x", colLeft[c] + panelW / 2).attr("y", 70)
    .attr("text-anchor", "middle").style("font-weight", "bold").style("font-size", "17px")
    .text(cmp);
  svg.append("text").attr("x", colLeft[c] + panelW / 2).attr("y", 1137)
    .attr("text-anchor", "middle").style("font-size", "22px")
    .text("Time (sec)");
});

svg.append("text").attr("x", 1244).attr("y", 38)
  .style("font-weight", "bold").style("font-size", "18.5px")
  .text("Blue numbers are variance reduction");

// legend
const legend = svg.append("g").attr("transform", "translate(670,2)");
legend.append("rect").attr("width", 203).attr("height", 83)
  .attr("fill", "#fff").attr("stroke", "#000").attr("stroke-width", 1.5);
const legendItems = [
  { label: "Observed",  color: "#000",    width: 4,   y: 24 },
  { label: "Synthetic", color: "#ff0000", width: 1.3, y: 61 }
];
legendItems.forEach(it => {
  legend.append("line").attr("x1", 13).attr("x2", 76).attr("y1", it.y).attr("y2", it.y)
    .attr("stroke", it.color).attr("stroke-width", it.width);
  legend.append("text").attr("x", 83).attr("y", it.y).attr("dominant-baseline", "central")
    .style("font-size", "26px").text(it.label);
});
</script>
</body>
</html>
